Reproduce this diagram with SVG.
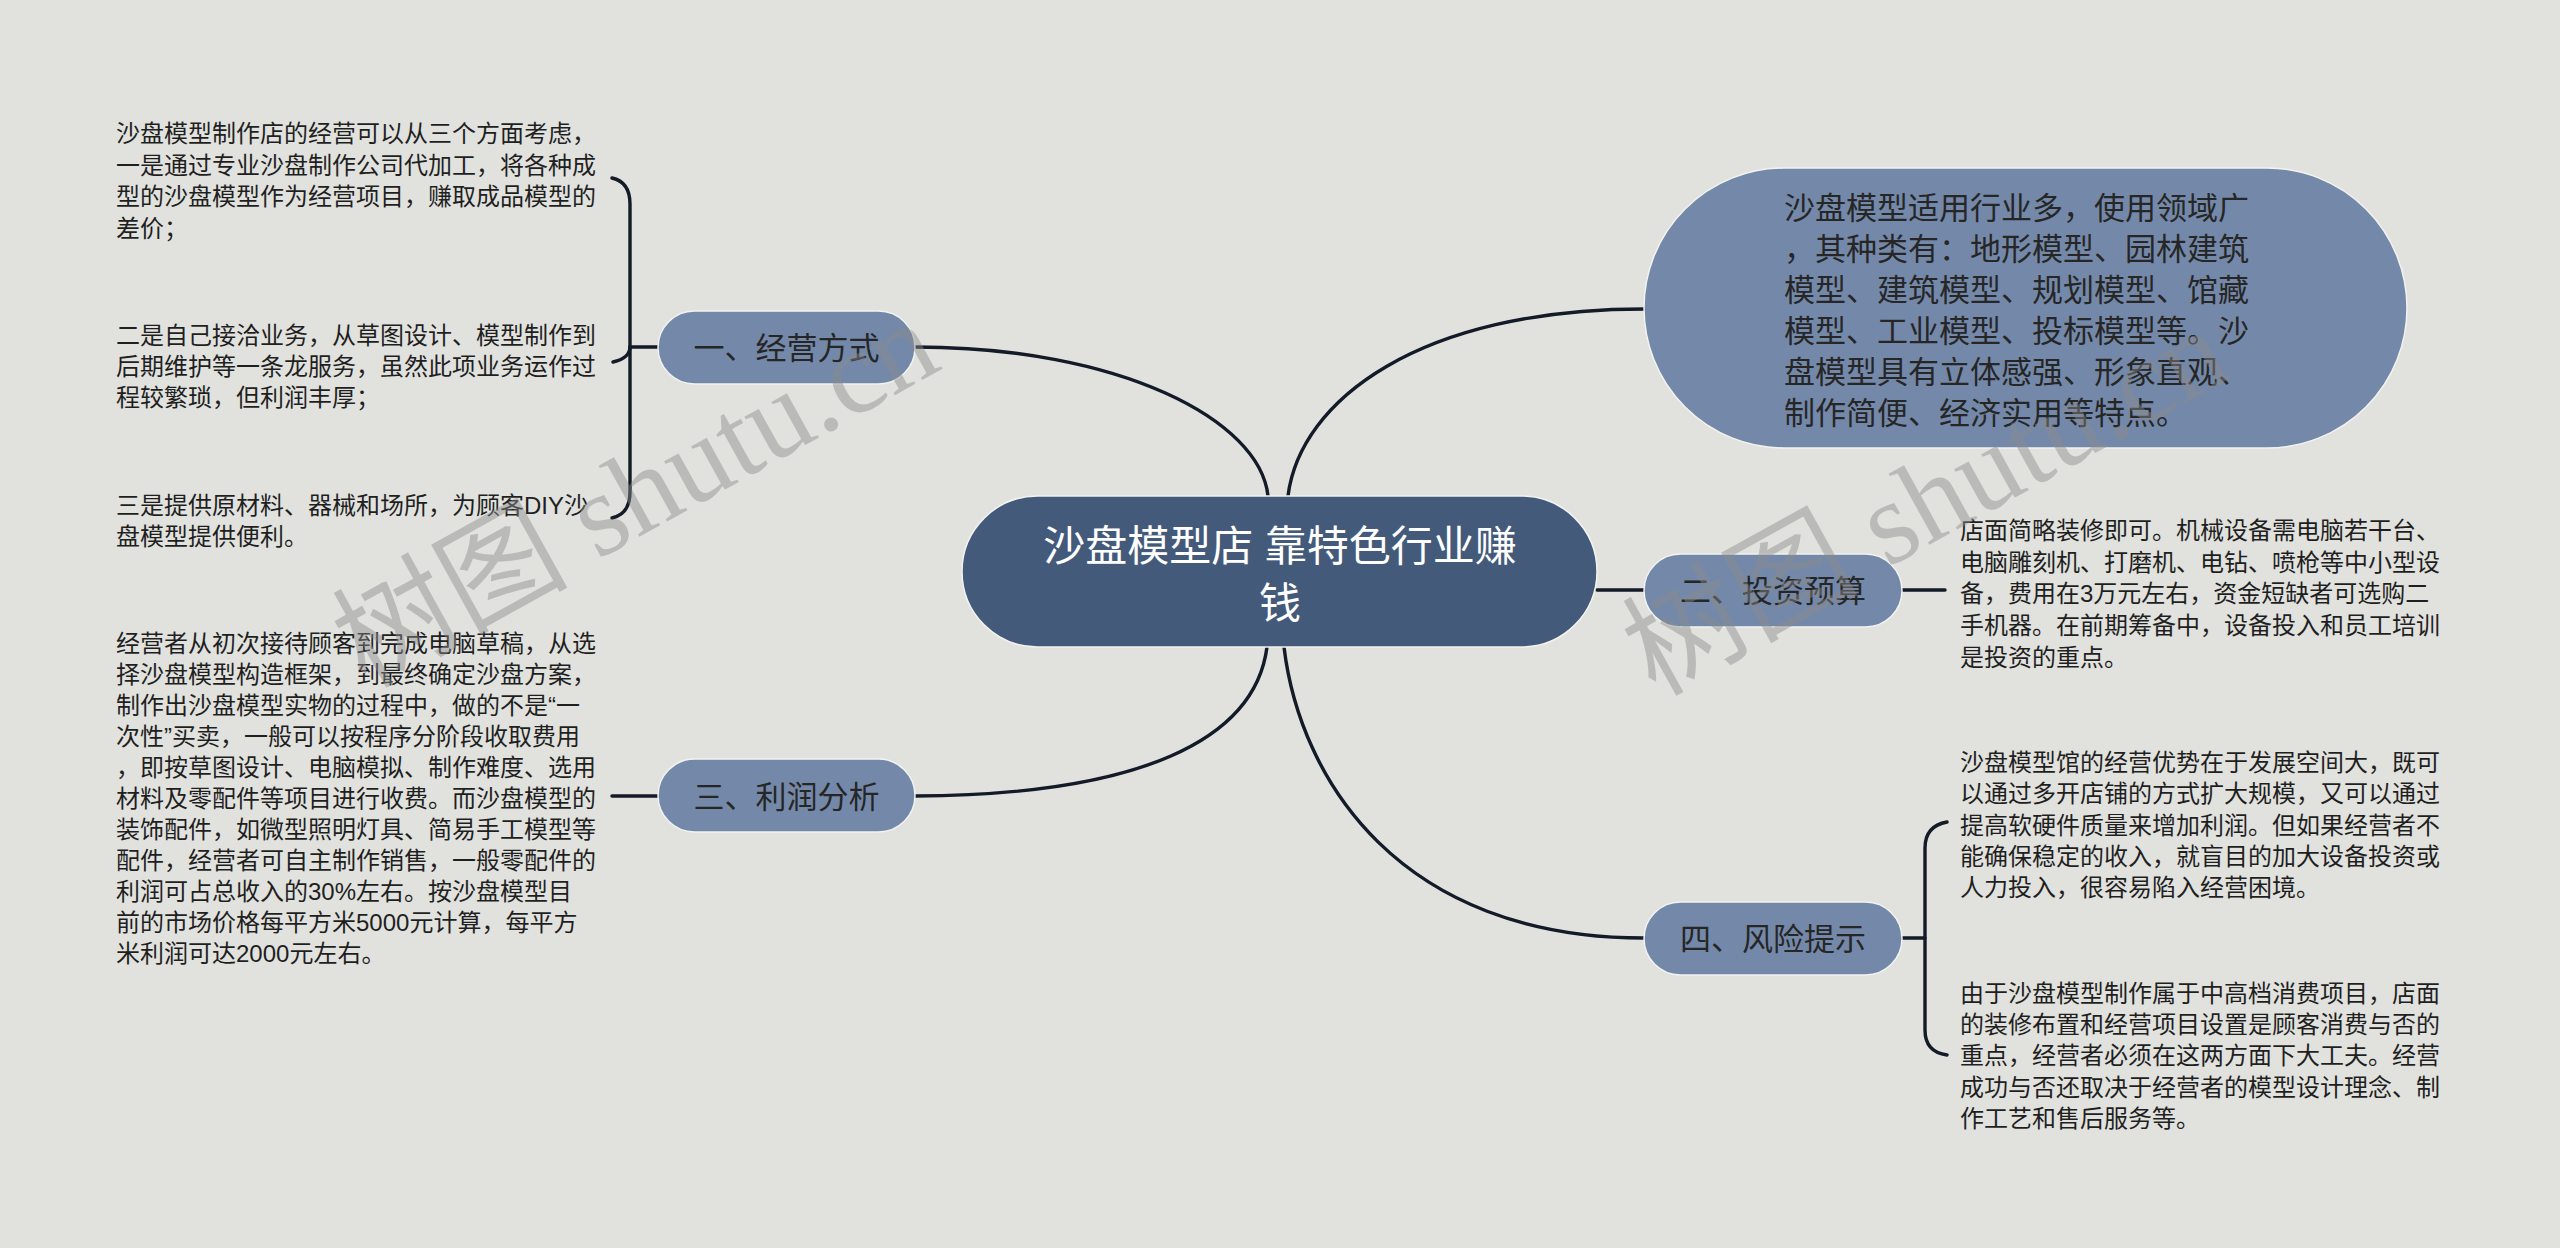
<svg xmlns="http://www.w3.org/2000/svg" width="2560" height="1248" viewBox="0 0 2560 1248">
<style>
.bg{fill:#e1e2de}
.cat{fill:#7489a9;stroke:#f2f3f0;stroke-width:1.5}
.ctr{fill:#435a7a;stroke:#f2f3f0;stroke-width:1.5}
.link{fill:none;stroke:#131a28;stroke-width:3.4;stroke-linecap:round}
text{font-family:"Liberation Sans","Noto Sans CJK SC",sans-serif}
.tc{font-size:31px;fill:#262626;text-anchor:middle}
.td{font-size:24px;fill:#1f1f1f}
.tb{font-size:31px;fill:#262626}
.tm{font-size:42px;fill:#ffffff;text-anchor:middle}
.wm{font-family:"Liberation Serif","Noto Sans CJK SC",serif;font-size:118px;fill:#8c8c8c;fill-opacity:0.45;text-anchor:end}
</style>
<rect class="bg" x="0" y="0" width="2560" height="1248"/>

<g id="connectors">
  <path class="link" d="M915,347 C1120,347 1260,420 1268,496"/>
  <path class="link" d="M1288,496 C1300,400 1420,309 1644,309"/>
  <path class="link" d="M1597,590 L1644,590"/>
  <path class="link" d="M1267,647 C1255,740 1140,795 915,796"/>
  <path class="link" d="M1284,647 C1300,780 1400,938 1644,938"/>
  <path class="link" d="M658,347 L630,347"/>
  <path class="link" d="M612,178 Q630,182 630,204 L630,492 Q630,514 612,518"/>
  <path class="link" d="M630,347 Q630,358 613,362"/>
  <path class="link" d="M658,796 L612,796"/>
  <path class="link" d="M1902,590 L1945,590"/>
  <path class="link" d="M1902,938 L1925,938"/>
  <path class="link" d="M1947,822 Q1925,826 1925,848 L1925,1030 Q1925,1052 1947,1055"/>
</g>

<g id="center">
  <rect class="ctr" x="962" y="496" width="635" height="151" rx="75.5"/>
  <text class="tm" x="1280" y="561">沙盘模型店 靠特色行业赚</text>
  <text class="tm" x="1280" y="618">钱</text>
</g>

<g id="n1">
  <rect class="cat" x="658" y="311" width="257" height="73" rx="36.5"/>
  <text class="tc" x="786.5" y="359">一、经营方式</text>
</g>
<g id="n1-d1">
  <text class="td" x="116" y="142">沙盘模型制作店的经营可以从三个方面考虑，</text>
  <text class="td" x="116" y="173.5">一是通过专业沙盘制作公司代加工，将各种成</text>
  <text class="td" x="116" y="205">型的沙盘模型作为经营项目，赚取成品模型的</text>
  <text class="td" x="116" y="236.5">差价；</text>
</g>
<g id="n1-d2">
  <text class="td" x="116" y="344">二是自己接洽业务，从草图设计、模型制作到</text>
  <text class="td" x="116" y="375">后期维护等一条龙服务，虽然此项业务运作过</text>
  <text class="td" x="116" y="406">程较繁琐，但利润丰厚；</text>
</g>
<g id="n1-d3">
  <text class="td" x="116" y="514">三是提供原材料、器械和场所，为顾客DIY沙</text>
  <text class="td" x="116" y="545">盘模型提供便利。</text>
</g>

<g id="n3">
  <rect class="cat" x="658" y="759" width="257" height="73" rx="36.5"/>
  <text class="tc" x="786.5" y="808">三、利润分析</text>
</g>
<g id="n3-d1">
  <text class="td" x="116" y="652">经营者从初次接待顾客到完成电脑草稿，从选</text>
  <text class="td" x="116" y="683">择沙盘模型构造框架，到最终确定沙盘方案，</text>
  <text class="td" x="116" y="714">制作出沙盘模型实物的过程中，做的不是“一</text>
  <text class="td" x="116" y="745">次性”买卖，一般可以按程序分阶段收取费用</text>
  <text class="td" x="116" y="776">，即按草图设计、电脑模拟、制作难度、选用</text>
  <text class="td" x="116" y="807">材料及零配件等项目进行收费。而沙盘模型的</text>
  <text class="td" x="116" y="838">装饰配件，如微型照明灯具、简易手工模型等</text>
  <text class="td" x="116" y="869">配件，经营者可自主制作销售，一般零配件的</text>
  <text class="td" x="116" y="900">利润可占总收入的30%左右。按沙盘模型目</text>
  <text class="td" x="116" y="931">前的市场价格每平方米5000元计算，每平方</text>
  <text class="td" x="116" y="962">米利润可达2000元左右。</text>
</g>

<g id="n0">
  <rect class="cat" x="1644" y="168" width="763" height="280" rx="140"/>
  <text class="tb" x="1784" y="219">沙盘模型适用行业多，使用领域广</text>
  <text class="tb" x="1784" y="260">，其种类有：地形模型、园林建筑</text>
  <text class="tb" x="1784" y="301">模型、建筑模型、规划模型、馆藏</text>
  <text class="tb" x="1784" y="342">模型、工业模型、投标模型等。沙</text>
  <text class="tb" x="1784" y="383">盘模型具有立体感强、形象直观、</text>
  <text class="tb" x="1784" y="424">制作简便、经济实用等特点。</text>
</g>

<g id="n2">
  <rect class="cat" x="1644" y="554" width="258" height="73" rx="36.5"/>
  <text class="tc" x="1773" y="602">二、投资预算</text>
</g>
<g id="n2-d1">
  <text class="td" x="1960" y="539">店面简略装修即可。机械设备需电脑若干台、</text>
  <text class="td" x="1960" y="570.7">电脑雕刻机、打磨机、电钻、喷枪等中小型设</text>
  <text class="td" x="1960" y="602.4">备，费用在3万元左右，资金短缺者可选购二</text>
  <text class="td" x="1960" y="634">手机器。在前期筹备中，设备投入和员工培训</text>
  <text class="td" x="1960" y="665.7">是投资的重点。</text>
</g>

<g id="n4">
  <rect class="cat" x="1644" y="902" width="258" height="73" rx="36.5"/>
  <text class="tc" x="1773" y="950">四、风险提示</text>
</g>
<g id="n4-d1">
  <text class="td" x="1960" y="771">沙盘模型馆的经营优势在于发展空间大，既可</text>
  <text class="td" x="1960" y="802">以通过多开店铺的方式扩大规模，又可以通过</text>
  <text class="td" x="1960" y="833.5">提高软硬件质量来增加利润。但如果经营者不</text>
  <text class="td" x="1960" y="865">能确保稳定的收入，就盲目的加大设备投资或</text>
  <text class="td" x="1960" y="896">人力投入，很容易陷入经营困境。</text>
</g>
<g id="n4-d2">
  <text class="td" x="1960" y="1002">由于沙盘模型制作属于中高档消费项目，店面</text>
  <text class="td" x="1960" y="1033">的装修布置和经营项目设置是顾客消费与否的</text>
  <text class="td" x="1960" y="1064">重点，经营者必须在这两方面下大工夫。经营</text>
  <text class="td" x="1960" y="1095.5">成功与否还取决于经营者的模型设计理念、制</text>
  <text class="td" x="1960" y="1127">作工艺和售后服务等。</text>
</g>

<g id="watermark">
  <text class="wm" x="944" y="368" transform="rotate(-29 944 368)">树图 shutu.cn</text>
  <text class="wm" x="2234" y="376" transform="rotate(-29 2234 376)">树图 shutu.cn</text>
</g>
</svg>
